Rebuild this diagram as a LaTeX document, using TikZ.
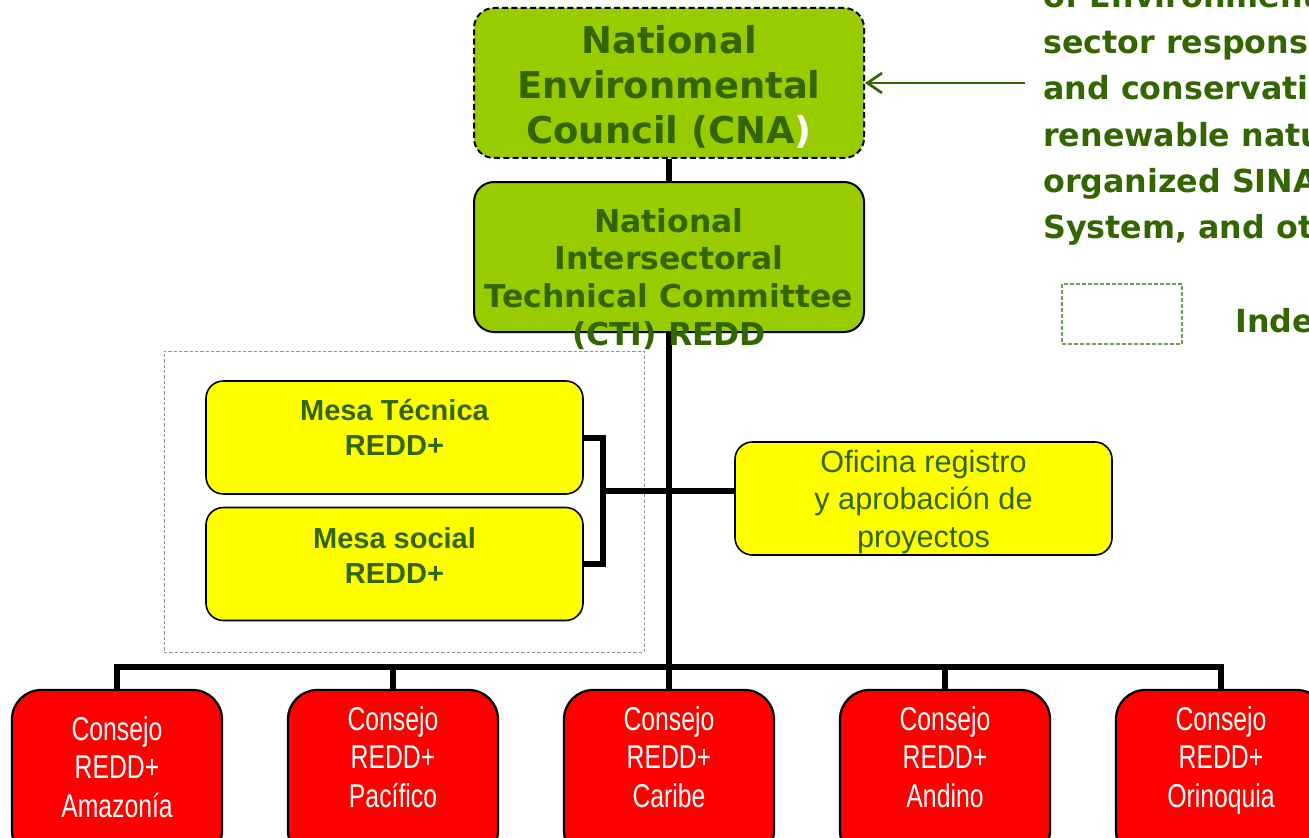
\documentclass[tikz,border=0pt]{standalone}
\usepackage{fontspec}
\setmainfont{Liberation Sans}
\newfontfamily\verdfont{DejaVu Sans}
\newfontfamily\narrowfont{Liberation Sans}[FakeStretch=0.75]
\usetikzlibrary{arrows.meta}

\definecolor{cnagreen}{HTML}{99CC00}
\definecolor{txtgreen}{HTML}{336600}
\definecolor{consejored}{HTML}{FF0000}
\definecolor{mesayellow}{HTML}{FFFF00}
\definecolor{legendgreen}{HTML}{6F9A55}
\definecolor{groupgrey}{HTML}{8C9C7C}

\tikzset{
  greenbox/.style={draw=black, fill=cnagreen, line width=1.5pt, rounded corners=15pt,
    minimum width=292.5pt, minimum height=112.5pt, inner sep=0pt},
  mesabox/.style={draw=black, fill=mesayellow, line width=1.2pt, rounded corners=13pt,
    minimum width=282.75pt, minimum height=84.75pt, inner sep=0pt},
  consejobox/.style={draw=black, fill=consejored, line width=1.7pt, rounded corners=22pt,
    minimum width=157.5pt, minimum height=127.5pt, inner sep=0pt},
  groupbox/.style={draw=groupgrey, line width=0.6pt, dash pattern=on 2.5pt off 1.5pt,
    minimum width=360pt, minimum height=225.75pt, inner sep=0pt},
  legendbox/.style={draw=legendgreen, line width=0.9pt, dash pattern=on 3pt off 1.5pt,
    minimum width=90pt, minimum height=45pt, inner sep=0pt},
  trunk/.style={line width=4.5pt, line join=miter},
  pointer/.style={draw=txtgreen, line width=2pt, -{Straight Barb[length=11pt,width=15pt]}},
  cnatext/.style={text=txtgreen, align=center, inner sep=0pt, anchor=north,
    font=\verdfont\bfseries\fontsize{27.7}{33.75}\selectfont},
  ctitext/.style={text=txtgreen, align=center, inner sep=0pt, anchor=north,
    font=\verdfont\bfseries\fontsize{23.6}{28.3}\selectfont},
  sidetext/.style={text=txtgreen, align=left, inner sep=0pt, anchor=north west,
    font=\verdfont\bfseries\fontsize{23.8}{34.7}\selectfont},
  mesatext/.style={text=txtgreen, align=center, inner sep=0pt, anchor=north,
    font=\bfseries\fontsize{21.75}{26.25}\selectfont},
  ofitext/.style={text=txtgreen, align=center, inner sep=0pt, anchor=north,
    font=\fontsize{23}{28.1}\selectfont},
  redtext/.style={text=white, align=center, inner sep=0pt, anchor=north,
    font=\narrowfont\fontsize{24.75}{28.9}\selectfont}
}

\begin{document}
\begin{tikzpicture}[x=0.75pt,y=0.75pt,yscale=-1,xscale=1]
\clip (0,0) rectangle (1309,838);

%Shape: Rounded Rect [CNA, CTI]
\draw (669,83) node [greenbox, dash pattern=on 4.5pt off 2.5pt] (cna) {};
\draw (669,257) node [greenbox] (cti) {};
%Shape: Rectangle [group of mesas]
\draw (404,501.5) node [groupbox] (group) {};
%Shape: Rounded Rect [mesas, oficina]
\draw (394.5,437.5) node [mesabox] (mesatec) {};
\draw (394.5,564) node [mesabox] (mesasoc) {};
\draw (923.5,498.5) node [mesabox] (oficina) {};
%Shape: Rectangle [legend]
\draw (1122,314) node [legendbox] (legend) {};
%Shape: Rounded Rect [consejos]
\foreach \x/\n in {117/amazonia,393/pacifico,669/caribe,945/andino,1221/orinoquia}
  \draw (\x,775) node [consejobox] (\n) {};

\coordinate (bus) at (669,667);
\coordinate (fork) at (603,491);
\coordinate (arrowstart) at (1025,83);

%Straight Lines
\draw [trunk] (cna.south) -- (cti.north);
\draw [trunk] (cti.south) -- (bus);
\foreach \n in {amazonia,pacifico,caribe,andino,orinoquia}
  \draw [trunk] (\n.north) |- (bus);
\draw [trunk] (mesatec.east) -| (fork) |- (mesasoc.east);
\draw [trunk] (fork) -- (fork -| oficina.west);
\draw [pointer] (arrowstart) -- (cna.east);

% Text Node
\draw (669,25) node [cnatext] (cnatxt) {National\\Environmental\\Council (CNA{\color{white})}};
% Text Node
\draw (669,208) node [ctitext] (ctitxt) {National\\Intersectoral\\Technical Committee\\(CTI) REDD};
% Text Node
\draw (394.5,399) node [mesatext] (mesatectxt) {Mesa Técnica\\REDD+};
% Text Node
\draw (394.5,527) node [mesatext] (mesasoctxt) {Mesa social\\REDD+};
% Text Node
\draw (923.5,450) node [ofitext] (oficinatxt) {Oficina registro\\y aprobación de\\proyectos};
% Text Node
\draw (117,716) node [redtext] (amazoniatxt) {Consejo\\REDD+\\Amazonía};
\draw (393,706) node [redtext] (pacificotxt) {Consejo\\REDD+\\Pacífico};
\draw (669,706) node [redtext] (caribetxt) {Consejo\\REDD+\\Caribe};
\draw (945,706) node [redtext] (andinotxt) {Consejo\\REDD+\\Andino};
\draw (1221,706) node [redtext] (orinoquiatxt) {Consejo\\REDD+\\Orinoquia};
% Text Node
\draw (1043,-17) node [sidetext] (sidetxt) {of Environment\\sector responsible\\and conservation\\renewable natural\\organized SINA\\System, and other};
% Text Node
\draw (1235,308) node [sidetext] (indetxt) {Independent};

\end{tikzpicture}
\end{document}
